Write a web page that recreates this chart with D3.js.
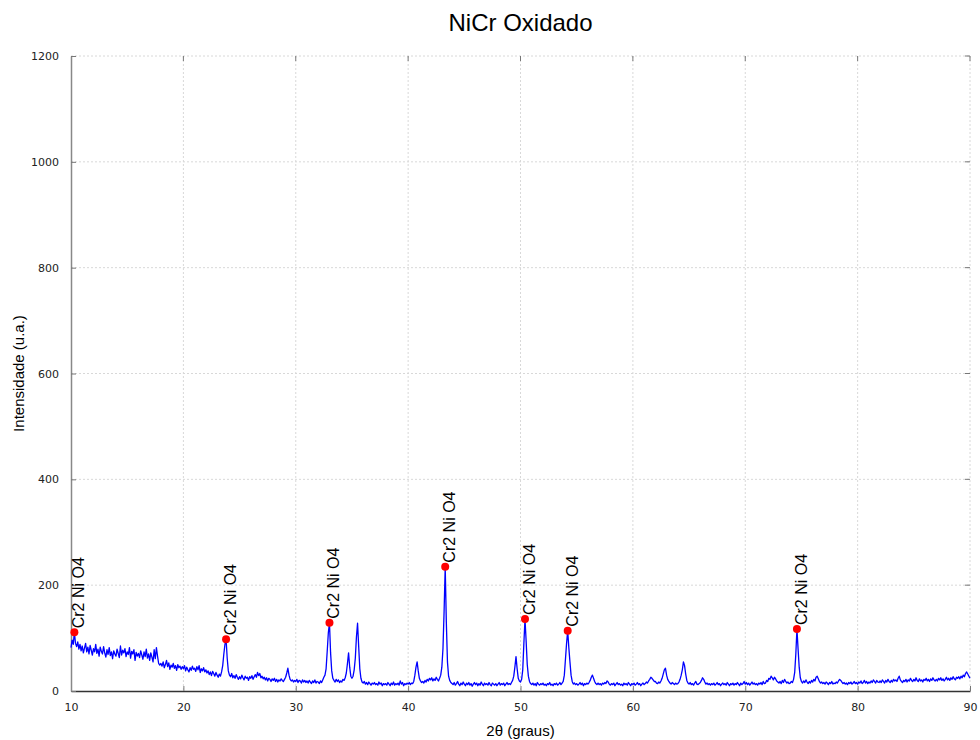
<!DOCTYPE html>
<html>
<head>
<meta charset="utf-8">
<script src="https://cdn.jsdelivr.net/npm/d3@7"></script>
<style>
  html, body { margin: 0; padding: 0; background: #fff; }
  svg { display: block; }
</style>
</head>
<body>
<svg id="chart" width="980" height="740"></svg>
<script>
// XRD scan of oxidised NiCr: 2θ from 10° to 90°, 0.1° per step
const scanStart = 10;
const scanStep = 0.1;

// Counts, one row per degree (10.0–10.9, 11.0–11.9, …), last row is 90.0
const counts = [
  [82,96,88,111,90,84,93,79,88,76],
  [85,72,81,90,74,83,70,86,77,68],
  [80,74,88,71,79,66,83,75,70,84],
  [72,64,78,69,82,67,74,61,76,70],
  [66,79,71,63,85,68,77,72,80,65],
  [74,69,82,62,75,70,78,58,73,66],
  [71,63,76,68,60,74,65,79,62,70],
  [58,72,64,55,78,61,82,66,52,49],
  [52,47,55,44,50,58,46,53,41,49],
  [45,52,43,48,39,50,44,47,41,46],
  [42,48,38,45,40,36,44,39,47,41],
  [43,37,46,40,48,35,42,38,44,36],
  [40,34,38,31,36,29,37,33,28,35],
  [30,26,32,28,36,48,70,88,98,62],
  [38,30,27,33,25,29,24,31,26,22],
  [27,23,30,25,21,28,24,26,20,27],
  [24,29,22,27,31,26,35,29,33,25],
  [28,23,26,21,25,19,24,22,18,23],
  [20,24,18,22,17,21,19,23,20,18],
  [22,26,34,43,30,22,19,21,17,20],
  [18,22,16,20,19,15,21,17,20,16],
  [19,15,20,17,14,19,16,21,15,18],
  [17,14,19,16,21,26,30,42,75,110],
  [129,72,38,24,20,17,22,18,21,16],
  [19,17,22,20,25,34,52,72,45,28],
  [24,28,40,62,102,128,84,42,24,17],
  [15,18,13,16,12,17,14,11,15,13],
  [16,12,14,11,17,13,15,10,14,12],
  [14,11,16,13,10,15,12,17,11,14],
  [12,15,11,19,13,16,10,14,12,15],
  [13,16,12,15,14,18,30,45,55,38],
  [24,19,16,18,15,20,17,22,19,24],
  [21,25,19,23,20,26,22,19,24,30],
  [45,80,150,235,130,55,28,20,16,14],
  [12,16,11,14,18,13,10,15,12,17],
  [13,10,15,12,16,11,14,9,13,16],
  [12,15,10,14,11,17,13,10,15,12],
  [14,11,16,12,10,15,13,11,14,10],
  [13,16,11,14,12,15,10,13,16,12],
  [14,12,16,20,28,45,65,42,24,19],
  [17,22,40,90,136,95,50,28,18,14],
  [12,15,11,14,10,16,13,11,14,12],
  [15,11,13,10,14,12,16,11,13,10],
  [14,12,15,11,13,16,12,15,18,30],
  [60,90,114,82,55,30,18,13,15,12],
  [14,11,13,16,12,15,10,14,12,15],
  [13,16,20,26,30,24,18,14,12,15],
  [12,14,11,15,13,16,14,19,17,13],
  [11,14,12,15,10,13,16,12,14,11],
  [13,10,15,12,14,11,16,13,10,14],
  [12,15,11,13,16,12,14,10,13,15],
  [12,14,17,15,19,22,26,24,21,18],
  [18,15,14,17,15,19,24,32,40,43],
  [30,22,18,15,13,16,14,12,15,13],
  [14,17,22,30,40,55,48,32,20,15],
  [13,16,12,14,11,15,18,13,12,14],
  [16,20,25,22,17,13,15,12,14,11],
  [14,12,15,11,13,16,12,14,10,13],
  [15,12,14,11,16,13,10,14,12,15],
  [11,14,12,16,13,10,15,12,14,18],
  [13,16,12,15,11,14,17,13,15,12],
  [14,11,15,13,16,12,18,14,15,20],
  [18,24,22,28,25,21,26,23,19,17],
  [15,18,14,20,16,22,18,15,17,14],
  [15,18,16,22,35,70,117,80,45,25],
  [18,15,19,16,21,17,14,18,15,20],
  [17,22,19,26,28,23,18,15,17,14],
  [16,13,17,15,12,16,14,18,13,15],
  [14,17,15,19,22,20,17,14,16,13],
  [15,12,16,14,17,13,15,18,14,16],
  [13,17,15,19,14,16,20,15,18,14],
  [17,15,19,16,21,18,15,20,17,16],
  [19,16,21,18,15,20,17,22,18,16],
  [20,17,22,19,21,18,24,28,21,18],
  [16,20,18,22,17,21,19,24,20,18],
  [22,19,25,20,18,23,19,21,17,22],
  [20,24,19,22,18,23,20,25,21,19],
  [22,19,24,21,25,20,23,19,22,26],
  [21,24,20,25,22,27,23,21,26,24],
  [27,23,28,25,30,27,33,36,32,28],
  [24]
];

// Indexed reflections (phase identified at each marked peak)
const peakAngles = [10.3, 23.8, 33.0, 43.3, 50.4, 54.2, 74.6];
const peakPhases = ["Cr2 Ni O4", "Cr2 Ni O4", "Cr2 Ni O4", "Cr2 Ni O4", "Cr2 Ni O4", "Cr2 Ni O4", "Cr2 Ni O4"];

const xTicks = [10, 20, 30, 40, 50, 60, 70, 80, 90];
const yTicks = [0, 200, 400, 600, 800, 1000, 1200];

const titleText = "NiCr Oxidado";
const xLabel = "2θ (graus)";
const yLabel = "Intensidade (u.a.)";

// ---------------------------------------------------------------
const intensity = counts.flat();
const scan = intensity.map((c, i) => ({ angle: scanStart + i * scanStep, count: c }));
const countAt = a => intensity[Math.round((a - scanStart) / scanStep)];

const W = 980, H = 740;
const margin = { top: 56, right: 10, bottom: 49, left: 71 };
const iw = W - margin.left - margin.right;
const ih = H - margin.top - margin.bottom;

const svg = d3.select("#chart");
const g = svg.append("g").attr("transform", `translate(${margin.left},${margin.top})`);

const x = d3.scaleLinear().domain([10, 90]).range([0, iw]);
const y = d3.scaleLinear().domain([0, 1200]).range([ih, 0]);

const tickFont = "Tahoma, 'DejaVu Sans', sans-serif";
const labelFont = "'Liberation Sans', Arial, sans-serif";

// dotted grid
g.append("g").selectAll("line").data(xTicks.slice(1)).join("line")
  .attr("x1", d => x(d)).attr("x2", d => x(d))
  .attr("y1", 0).attr("y2", ih)
  .attr("stroke", "#d8d8d8").attr("stroke-width", 1).attr("stroke-dasharray", "2,2");
g.append("g").selectAll("line").data(yTicks.slice(1)).join("line")
  .attr("x1", 0).attr("x2", iw)
  .attr("y1", d => y(d)).attr("y2", d => y(d))
  .attr("stroke", "#d8d8d8").attr("stroke-width", 1).attr("stroke-dasharray", "2,2");

// axes with inward ticks
const xAxis = g.append("g").attr("transform", `translate(0,${ih})`)
  .call(d3.axisBottom(x).tickValues(xTicks).tickFormat(d3.format("d"))
    .tickSizeInner(-5).tickSizeOuter(0).tickPadding(12));
const yAxis = g.append("g")
  .call(d3.axisLeft(y).tickValues(yTicks).tickFormat(d3.format("d"))
    .tickSizeInner(-5).tickSizeOuter(0).tickPadding(12));

xAxis.select(".domain").attr("stroke", "#333").attr("stroke-width", 1.5);
yAxis.select(".domain").attr("stroke", "#888").attr("stroke-width", 1.5);
[xAxis, yAxis].forEach(ax => {
  ax.selectAll(".tick line").attr("stroke", "#777").attr("stroke-width", 1);
  ax.selectAll(".tick text").attr("fill", "#222")
    .style("font-family", tickFont).style("font-size", "11px");
});

// mirrored ticks on top and right edges
g.append("g").selectAll("line").data(xTicks.slice(1)).join("line")
  .attr("x1", d => x(d)).attr("x2", d => x(d))
  .attr("y1", 0).attr("y2", 5)
  .attr("stroke", "#777").attr("stroke-width", 1);
g.append("g").selectAll("line").data(yTicks.slice(1)).join("line")
  .attr("x1", iw - 5).attr("x2", iw)
  .attr("y1", d => y(d)).attr("y2", d => y(d))
  .attr("stroke", "#777").attr("stroke-width", 1);

// diffractogram
const line = d3.line().x(d => x(d.angle)).y(d => y(d.count));
g.append("path").datum(scan)
  .attr("d", line)
  .attr("fill", "none")
  .attr("stroke", "#0000ff")
  .attr("stroke-width", 1.3)
  .attr("stroke-linejoin", "round");

// peak markers and phase labels
const peaks = peakAngles.map((a, i) => ({ angle: a, count: countAt(a), phase: peakPhases[i] }));
const pk = g.append("g").selectAll("g").data(peaks).join("g");
pk.append("circle")
  .attr("cx", d => x(d.angle)).attr("cy", d => y(d.count))
  .attr("r", 4).attr("fill", "#ff0000");
pk.append("text")
  .attr("transform", d => `translate(${x(d.angle) + 10},${y(d.count) - 4}) rotate(-90)`)
  .attr("text-anchor", "start")
  .style("font-family", labelFont).style("font-size", "16px")
  .attr("fill", "#000")
  .text(d => d.phase);

// title and axis titles
svg.append("text")
  .attr("x", margin.left + iw / 2).attr("y", 31)
  .attr("text-anchor", "middle")
  .style("font-family", labelFont).style("font-size", "24px")
  .attr("fill", "#000")
  .text(titleText);

svg.append("text")
  .attr("x", margin.left + iw / 2).attr("y", 736)
  .attr("text-anchor", "middle")
  .style("font-family", labelFont).style("font-size", "15px")
  .attr("fill", "#000")
  .text(xLabel);

svg.append("text")
  .attr("transform", `translate(24,${margin.top + ih / 2}) rotate(-90)`)
  .attr("text-anchor", "middle")
  .style("font-family", labelFont).style("font-size", "15px")
  .attr("fill", "#000")
  .text(yLabel);
</script>
</body>
</html>
